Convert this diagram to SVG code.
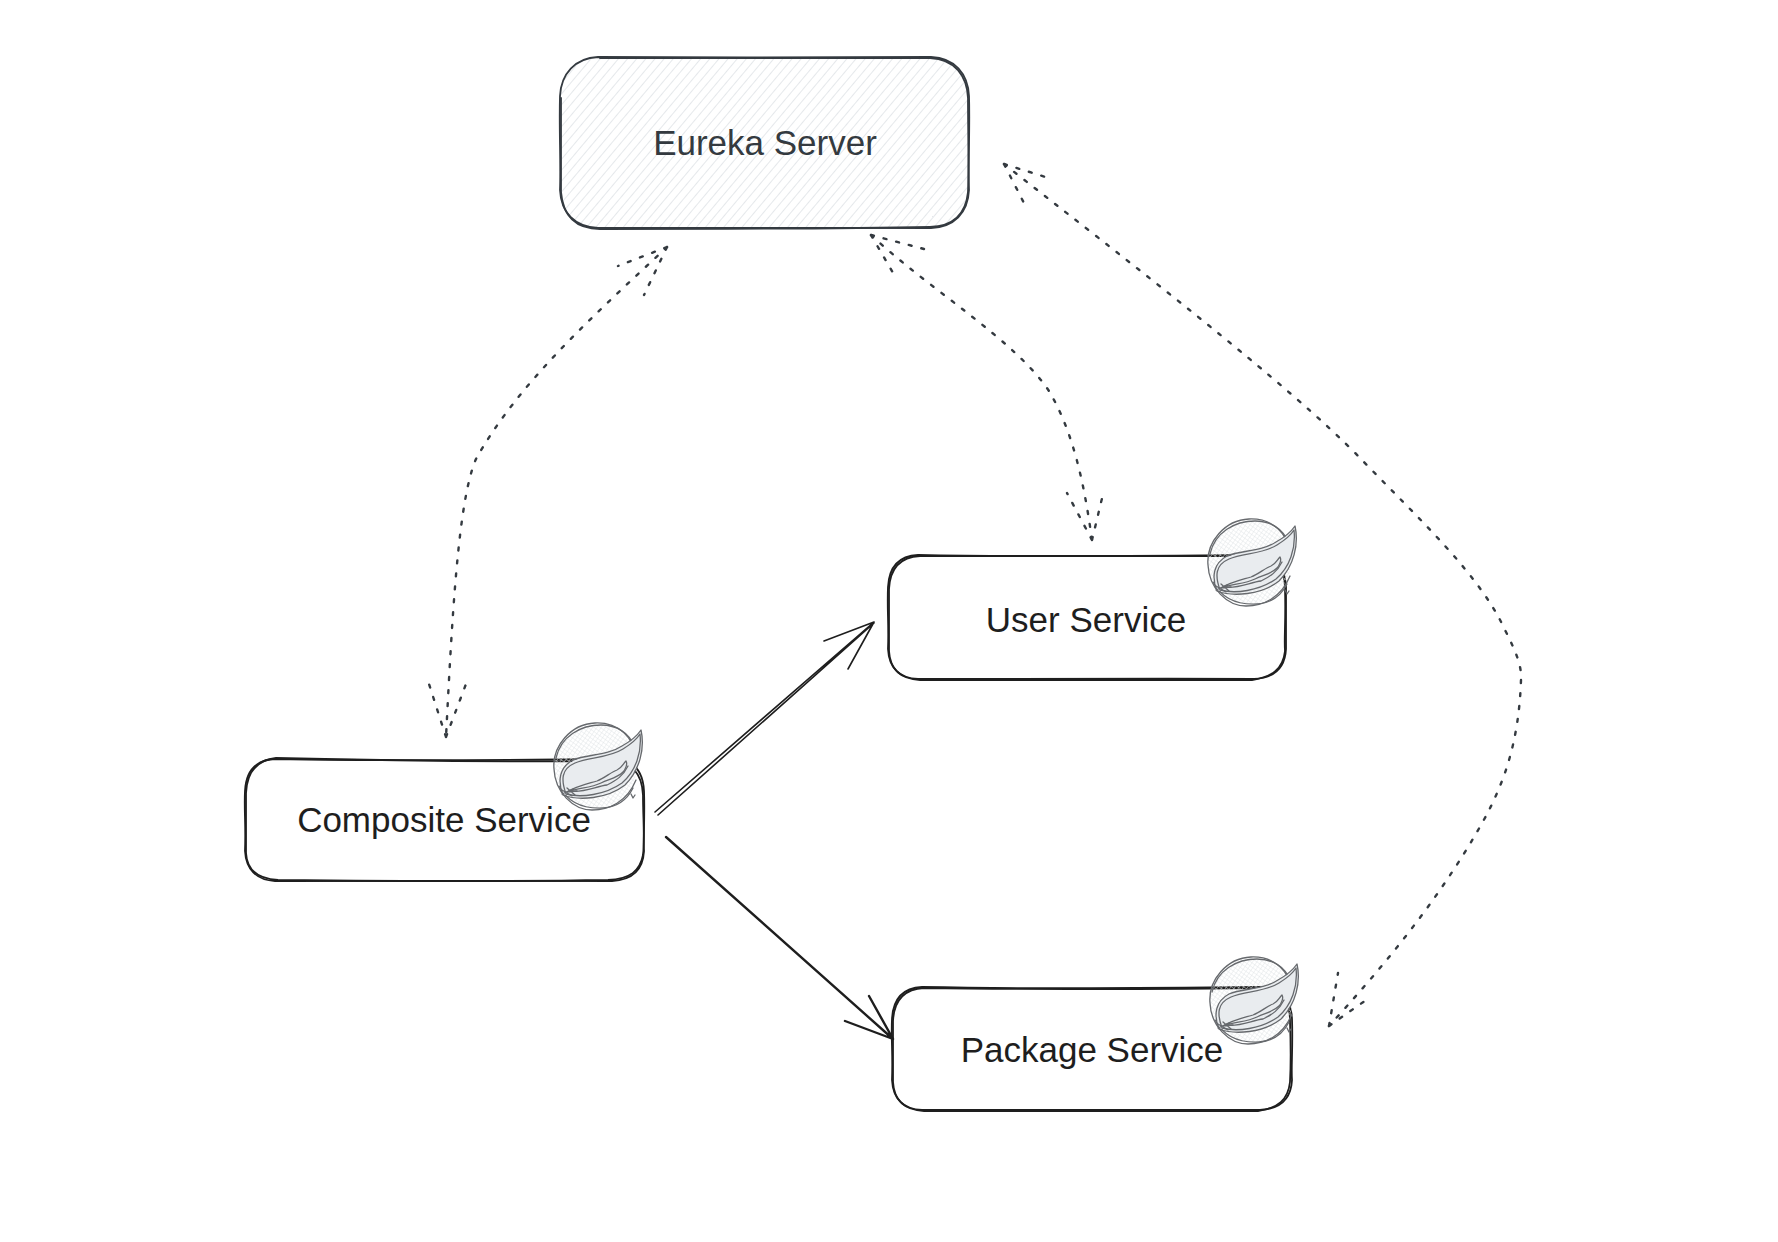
<svg xmlns="http://www.w3.org/2000/svg" xmlns:xlink="http://www.w3.org/1999/xlink" width="1778" height="1242" viewBox="0 0 1778 1242">
<style>
.box{fill:none;stroke:#1e1e1e;stroke-width:1.8;stroke-linecap:round}
.dark{stroke:#343a40}
.lbl{font-family:"Liberation Sans",Arial,sans-serif;font-size:35px;text-anchor:middle;fill:#1e1e1e}
.dot{fill:none;stroke:#343a40;stroke-width:2.4;stroke-dasharray:3 10;stroke-linecap:round;stroke-linejoin:round}
.sol{fill:none;stroke:#1e1e1e;stroke-width:2.4;stroke-linecap:round;stroke-linejoin:round}
.thin{stroke-width:1.6}
.sk{fill:none;stroke:#66696d;stroke-width:1.3;stroke-linecap:round;stroke-linejoin:round}
</style>
<defs>
<pattern id="hatch" width="7" height="7" patternUnits="userSpaceOnUse" patternTransform="rotate(40)">
<line x1="0" y1="0" x2="0" y2="7" stroke="#dde1e4" stroke-width="1.5"/>
</pattern>
<pattern id="cross" width="3.5" height="3.5" patternUnits="userSpaceOnUse" patternTransform="rotate(35)">
<path d="M0 0V3.5M0 0H3.5" stroke="#dfe3e6" stroke-width="0.9" fill="none"/>
</pattern>
<g id="spring">
<circle cx="0" cy="0" r="42" fill="url(#cross)"/>
<path class="sk" d="M-41 3C-43 -20 -24 -42 0 -43C24 -44 39 -28 41 -8M41 14C32 36 14 44 -3 44C-22 44 -40 26 -41 3"/>
<path class="sk" d="M-39 -8C-34 -30 -14 -41 6 -41C22 -41 34 -33 39 -20M-36 20C-27 37 -12 43 8 42C22 41 32 34 38 22"/>
<path d="M-32 28C-36 12 -34 2 -22 -5C-8 -12 12 -10 28 -20C36 -24 42 -30 46 -35C50 -18 44 4 30 18C12 32 -16 34 -32 28Z" fill="#e9ecef"/>
<path class="sk" d="M-32 29C-38 14 -35 1 -22 -6C-8 -12 12 -10 27 -20C36 -25 42 -30 46 -36C50 -18 45 4 30 19C12 33 -16 35 -32 29"/>
<path class="sk" d="M-29 28C-34 14 -34 3 -20 -3C-6 -9 14 -8 28 -17C36 -22 42 -27 45 -32C47 -14 41 5 27 17C10 29 -14 32 -29 28"/>
<path class="sk" d="M-28 26C-18 20 -8 18 2 15C10 12 16 6 22 4C27 2 28 -2 31 -5C33 -2 30 4 28 6C22 12 14 13 6 17C-4 22 -18 22 -28 26"/>
<path class="sk" d="M-33 28L-22 23M-33 24L-23 30M-28 22L-20 29M-30 26L-18 25"/>
<path class="sk" d="M-24 25C-12 27 2 20 12 19C22 14 28 10 33 0"/>
<path class="sk" d="M36 28L38 32L40 29"/>
</g>
</defs>
<rect width="1778" height="1242" fill="#ffffff"/>

<g id="connectors">
<g id="composite-eureka">
<path class="dot" d="M667 247C600 310 520 380 476 459C458 500 452 620 446 737"/>
<path class="dot" d="M667 247L618 266M667 247L644 295M446 737L429 684M446 737L466 684"/>
</g>
<g id="user-eureka">
<path class="dot" d="M871 235C930 290 1015 340 1049 391C1075 435 1085 490 1092 540"/>
<path class="dot" d="M871 235L924 249M871 235L896 278M1092 540L1067 493M1092 540L1104 490"/>
</g>
<g id="package-eureka">
<path class="dot" d="M1004 164C1120 255 1290 385 1361 459C1420 520 1480 575 1505 630C1515 650 1522 665 1521 680C1519 740 1505 780 1486 816C1440 900 1380 970 1329 1026"/>
<path class="dot" d="M1004 164L1052 179M1004 164L1026 207M1329 1026L1338 973M1329 1026L1369 998"/>
</g>
<g id="composite-user">
<path class="sol thin" d="M655 812L874 622M658 815L874 623M874 622L824 641M874 622L848 669"/>
</g>
<g id="composite-package">
<path class="sol" d="M666 837L893 1039M893 1039L845 1021M893 1039L869 996"/>
</g>
</g>

<g id="eureka-server">
<path d="M598 58H931C955 58 969 74 969 96V190C969 213 955 228 931 228H598C575 228 560 213 560 190V96C560 74 575 58 598 58Z" fill="url(#hatch)"/>
<path class="box dark" d="M598 57C700 58 840 57 931 57C955 58 968 74 969 96C970 130 968 160 969 190C968 213 954 227 931 228C820 227 700 229 598 228C575 227 561 213 560 190C561 160 559 130 560 96C561 74 575 58 598 57Z"/>
<path class="box dark" d="M600 58C720 58 850 58 930 58C955 59 967 76 968 98C968 130 969 165 968 192C966 212 955 226 930 227C830 229 700 229 600 229C576 229 563 216 561 192C561 160 561 125 561 98"/>
<text class="lbl" x="765" y="155" style="fill:#343a40">Eureka Server</text>
</g>

<g id="composite-service">
<g transform="translate(0,-1)">
<path class="box" d="M275 760C380 762 520 761 615 760C634 761 643 772 644 792C645 820 643 845 644 852C643 872 632 881 612 882C500 881 380 883 275 882C256 881 246 870 245 852C246 825 244 810 245 792C246 772 256 761 275 760Z"/>
<path class="box" d="M276 759C400 762 500 763 610 762C632 763 642 774 643 796C643 820 645 840 643 856C640 872 630 880 608 881C500 883 380 882 278 881C258 880 247 872 246 854C246 830 246 810 246 794C247 772 258 761 276 759Z"/>
</g>
<use href="#spring" x="595" y="766"/>
<text class="lbl" x="444" y="832">Composite Service</text>
</g>

<g id="user-service">
<g transform="translate(0,-1)">
<path class="box" d="M918 556C1020 558 1160 557 1256 556C1276 557 1285 568 1286 588V650C1285 670 1274 679 1254 680C1140 679 1020 681 918 680C898 679 889 668 888 650C889 625 887 610 888 588C889 568 898 557 918 556Z"/>
<path class="box" d="M920 557C1040 558 1150 558 1254 557C1275 558 1285 570 1285 590C1286 620 1284 640 1285 652C1283 670 1272 678 1252 681C1130 681 1020 680 920 681C900 680 890 670 889 652C889 630 889 610 889 590C890 570 900 558 920 557Z"/>
</g>
<use href="#spring" x="1249" y="562"/>
<text class="lbl" x="1086" y="632">User Service</text>
</g>

<g id="package-service">
<g transform="translate(0,-2)">
<path class="box" d="M922 989C1030 991 1170 990 1262 989C1282 990 1291 1001 1292 1021C1293 1050 1291 1070 1292 1082C1291 1102 1280 1111 1260 1112C1150 1111 1030 1113 922 1112C902 1111 893 1100 892 1082C893 1055 891 1040 892 1021C893 1001 902 990 922 989Z"/>
<path class="box" d="M924 990C1040 992 1160 991 1260 990C1281 991 1290 1003 1290 1023C1291 1050 1291 1065 1290 1084C1288 1102 1278 1110 1258 1113C1140 1113 1030 1112 924 1113C904 1112 894 1102 893 1084C893 1060 893 1040 893 1023C894 1003 904 991 924 990Z"/>
</g>
<use href="#spring" x="1251" y="1000"/>
<text class="lbl" x="1092" y="1062">Package Service</text>
</g>
</svg>
